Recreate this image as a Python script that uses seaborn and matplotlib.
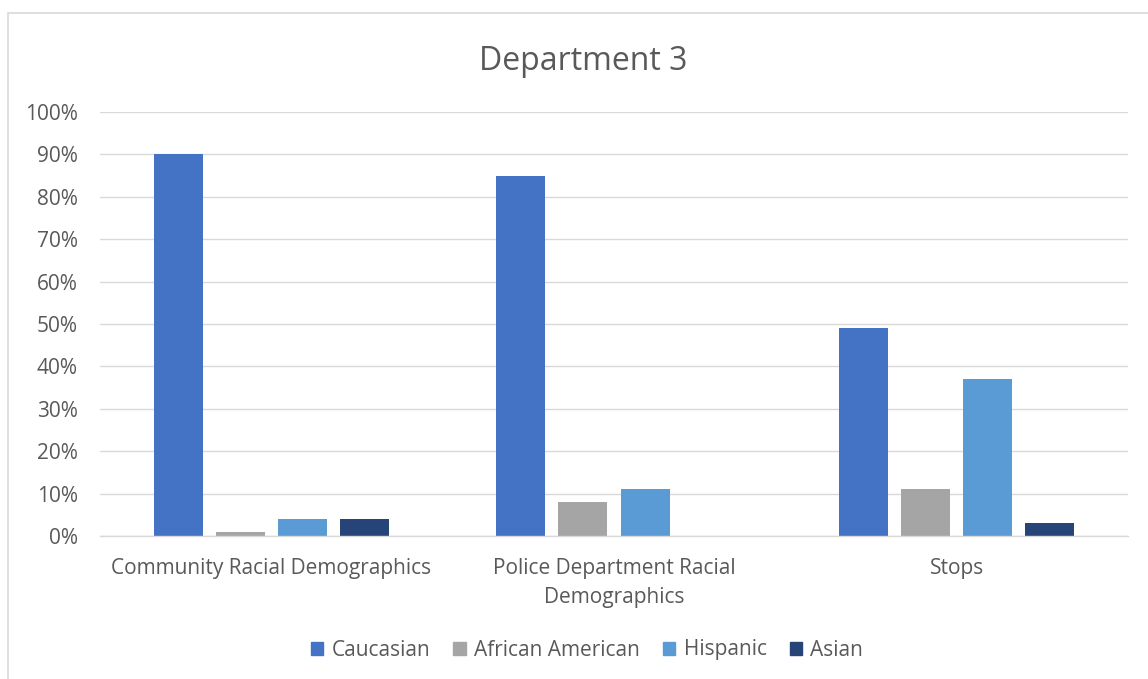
import matplotlib
matplotlib.use("Agg")
import matplotlib.pyplot as plt
import matplotlib.patches as mpatches
import seaborn as sns
import pandas as pd

# Chart data
categories = ["Community Racial Demographics",
              "Police Department Racial\nDemographics",
              "Stops"]
groups = ["Caucasian", "African American", "Hispanic", "Asian"]
caucasian = [90, 85, 49]
african_american = [1, 8, 11]
hispanic = [4, 11, 37]
asian = [4, 0, 3]
colors = ["#4472C4", "#A5A5A5", "#5B9BD5", "#264478"]
yticks = list(range(0, 101, 10))

series = dict(zip(groups, [caucasian, african_american, hispanic, asian]))
rows = []
for g in groups:
    for c, v in zip(categories, series[g]):
        rows.append({"category": c, "group": g, "value": v})
df = pd.DataFrame(rows)

sns.set_theme(style="white")
plt.rcParams["font.family"] = ["Open Sans", "DejaVu Sans"]
text_color = "#595959"

W, H = 1148, 679
fig = plt.figure(figsize=(W / 100, H / 100), dpi=100)
ax = fig.add_axes([100 / W, 1 - 536 / H, 1028 / W, 424 / H])

sns.barplot(data=df, x="category", y="value", hue="group",
            hue_order=groups, order=categories, palette=colors,
            saturation=1, width=0.725, gap=0.21, linewidth=0, ax=ax,
            legend=False)

ax.set_ylim(0, 100)
ax.set_xlim(-0.5, 2.5)
ax.set_yticks(yticks)
ax.set_yticklabels([f"{t}%" for t in yticks], color=text_color, fontsize=15)
ax.tick_params(axis="x", colors=text_color, labelsize=15, length=0, pad=15.5)
ax.tick_params(axis="y", length=0, pad=16)
for lbl in ax.get_xticklabels():
    lbl.set_color(text_color)
    lbl.set_linespacing(1.55)
ax.set_xlabel("")
ax.set_ylabel("")
ax.yaxis.grid(True, color="#d9d9d9", linewidth=1)
ax.set_axisbelow(True)
for side in ["top", "right", "left"]:
    ax.spines[side].set_visible(False)
ax.spines["bottom"].set_color("#d9d9d9")
ax.spines["bottom"].set_linewidth(1)

fig.text(583 / W, 1 - 61 / H, "Department 3", ha="center", va="center",
         fontsize=23, color=text_color)

handles = [mpatches.Patch(color=c, label=g) for g, c in zip(groups, colors)]
fig.legend(handles=handles, loc="center", bbox_to_anchor=(587 / W, 1 - 650 / H),
           ncol=4, frameon=False, fontsize=15, handlelength=0.6,
           handleheight=0.6, handletextpad=0.4, columnspacing=1.1,
           labelcolor=text_color)

# Chart area border
fig.patches.append(mpatches.Rectangle((8 / W, -0.1), 1.2, 1 - 13 / H + 0.1,
                                      transform=fig.transFigure, fill=False,
                                      edgecolor="#d9d9d9", linewidth=1.2))

fig.savefig("out.png", dpi=100, facecolor="white")
